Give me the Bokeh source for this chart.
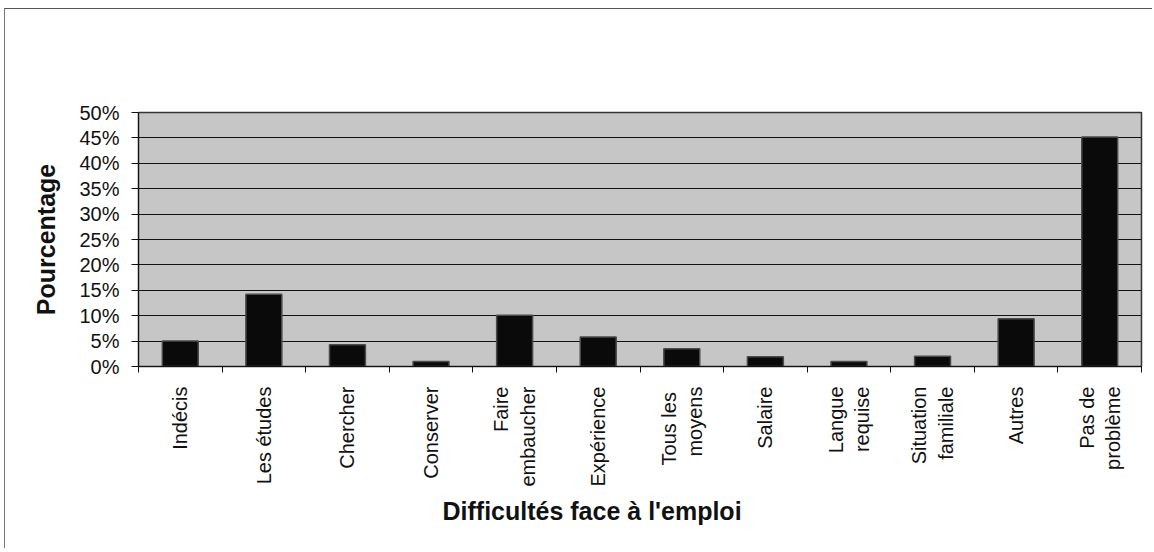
import math
from bokeh.plotting import figure
from bokeh.models import (Range1d, FixedTicker, NumeralTickFormatter, Title,
                          ColumnDataSource)
from bokeh.embed import file_html
from bokeh.resources import INLINE

categories = ["Indécis", "Les études", "Chercher", "Conserver", "Faire\nembaucher",
              "Expérience", "Tous  les\nmoyens", "Salaire", "Langue\nrequise",
              "Situation\nfamiliale", "Autres", "Pas de\nproblème"]
values_pct = [5.0, 14.2, 4.3, 1.0, 10.1, 5.8, 3.5, 1.9, 1.0, 2.0, 9.4, 45.2]
y_ticks_pct = [0, 5, 10, 15, 20, 25, 30, 35, 40, 45, 50]
x_title = "Difficultés face à l'emploi"
y_title = "Pourcentage"

n = len(categories)
centers = [i + 0.5 for i in range(n)]
src = ColumnDataSource(dict(x=centers, top=[v / 100 for v in values_pct]))

FONT = "Liberation Sans"

p = figure(width=1148, height=540, output_backend="svg", toolbar_location=None,
           x_range=Range1d(0, n), y_range=Range1d(0, 0.5),
           min_border_left=133, min_border_top=103, min_border_right=12,
           min_border_bottom=183)
p.border_fill_color = "white"
p.styles = {"margin-left": "4px", "margin-top": "8px",
            "border-top": "1px solid #555", "border-left": "1px solid #777"}

p.vbar(x="x", top="top", bottom=0, width=0.43, source=src,
       fill_color="#0a0a0a", line_color="#4a4a4a", line_width=1.5)

p.background_fill_color = "#c6c6c6"
p.outline_line_color = "#333333"
p.outline_line_width = 1.5

# y axis
ya = p.yaxis[0]
ya.ticker = FixedTicker(ticks=[t / 100 for t in y_ticks_pct])
ya.formatter = NumeralTickFormatter(format="0%")
ya.major_tick_out = 7
ya.major_tick_in = 0
ya.minor_tick_out = 0
ya.minor_tick_in = 0
ya.major_label_standoff = 12
ya.major_label_text_font = FONT
ya.major_label_text_font_size = "20px"
ya.major_label_text_color = "#111111"
ya.axis_line_color = "#111111"
ya.major_tick_line_color = "#111111"
ya.axis_label = y_title
ya.axis_label_text_font = FONT
ya.axis_label_text_font_size = "25px"
ya.axis_label_text_font_style = "bold"
ya.axis_label_text_color = "#111111"
ya.axis_label_standoff = 16

# x axis
xa = p.xaxis[0]
xa.ticker = FixedTicker(ticks=centers, minor_ticks=list(range(n + 1)))
xa.major_label_overrides = {c: lab for c, lab in zip(centers, categories)}
xa.major_label_orientation = math.pi / 2
xa.major_tick_out = 0
xa.major_tick_in = 0
xa.minor_tick_out = 6
xa.minor_tick_in = 0
xa.minor_tick_line_color = "#111111"
xa.axis_line_color = "#111111"
xa.major_label_standoff = 14
xa.major_label_text_font = FONT
xa.major_label_text_font_size = "20px"
xa.major_label_text_color = "#111111"

p.xgrid.visible = False
p.ygrid.ticker = FixedTicker(ticks=[t / 100 for t in y_ticks_pct])
p.ygrid.grid_line_color = "#111111"
p.ygrid.grid_line_width = 1

p.add_layout(Title(text=x_title, align="left", offset=304, standoff=10,
                   text_font=FONT, text_font_size="25px", text_font_style="bold",
                   text_color="#111111"), "below")

open("out.html", "w").write(file_html(p, INLINE))
